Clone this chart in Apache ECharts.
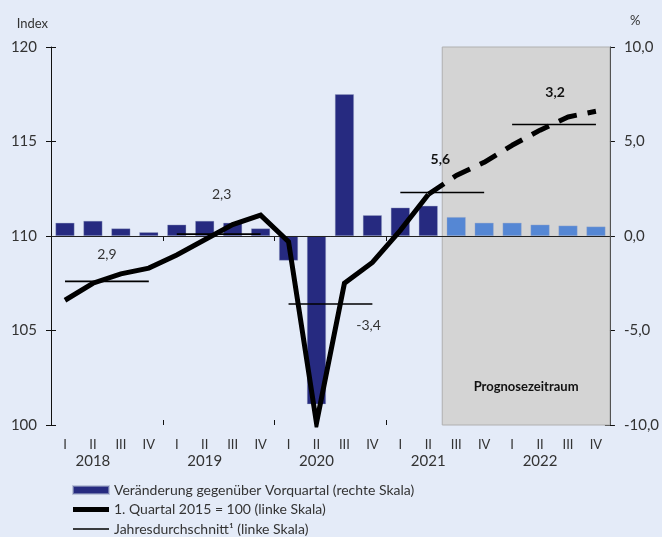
<!DOCTYPE html>
<html>
<head>
<meta charset="utf-8">
<script src="https://cdn.jsdelivr.net/npm/echarts@6/dist/echarts.min.js"></script>
<style>
  html, body { margin: 0; padding: 0; background: #e4ebf8; }
  #chart { width: 662px; height: 537px; }
</style>
</head>
<body>
<div id="chart"></div>
<script>
// Quartale 2018 I bis 2022 IV
const quarters = [
  '2018 I', '2018 II', '2018 III', '2018 IV',
  '2019 I', '2019 II', '2019 III', '2019 IV',
  '2020 I', '2020 II', '2020 III', '2020 IV',
  '2021 I', '2021 II', '2021 III', '2021 IV',
  '2022 I', '2022 II', '2022 III', '2022 IV'
];
const years = ['2018', '2019', '2020', '2021', '2022'];
const forecastFrom = '2021 III';

// Veränderung gegenüber Vorquartal in % (rechte Skala)
const changeQoQ = [0.7, 0.8, 0.4, 0.2, 0.6, 0.8, 0.7, 0.4, -1.3, -8.9, 7.5, 1.1,
                   1.5, 1.6, 1.0, 0.7, 0.7, 0.6, 0.55, 0.5];
// 1. Quartal 2015 = 100 (linke Skala)
const indexActual = [106.6, 107.5, 108.0, 108.3, 109.0, 109.8, 110.6, 111.1, 109.7, 100.1,
                     107.5, 108.6, 110.3, 112.2, null, null, null, null, null, null];
const indexForecast = [null, null, null, null, null, null, null, null, null, null,
                       null, null, null, 112.2, 113.2, 113.9, 114.8, 115.6, 116.3, 116.6];
// Jahresdurchschnitt (linke Skala) und Jahresveränderung
const yearAvg = [107.6, 110.1, 106.4, 112.3, 115.9];
const yearGrowth = ['2,9', '2,3', '-3,4', '5,6', '3,2'];

const leftTicks = { min: 100, max: 120, interval: 5 };
const rightTicks = { min: -10, max: 10, interval: 5 };

const fontFamily = 'Lato, "Noto Sans", sans-serif';
const txt = '#333';
const forecastIdx = quarters.indexOf(forecastFrom);

const barName = 'Veränderung gegenüber Vorquartal (rechte Skala)';
const lineName = '1. Quartal 2015 = 100 (linke Skala)';
const avgName = 'Jahresdurchschnitt¹ (linke Skala)';

// Beschriftungen der Jahresdurchschnitte (Versatz in px)
const growthOffsets = [[14, -27], [17, -40], [52, 21], [12, -33], [15, -32]];

const avgSeries = years.map((y, i) => {
  const data = quarters.map((q, k) => (Math.floor(k / 4) === i ? yearAvg[i] : null));
  return {
    name: avgName,
    type: 'line',
    yAxisIndex: 0,
    data: data,
    symbol: 'none',
    z: 4,
    lineStyle: { color: '#000', width: 1.6 },
    itemStyle: { color: '#000' },
    markPoint: {
      silent: true,
      symbol: 'circle',
      symbolSize: 0,
      label: {
        show: true,
        position: 'inside',
        offset: growthOffsets[i],
        formatter: yearGrowth[i],
        color: i >= 3 ? '#111' : txt,
        fontSize: 14,
        fontWeight: i >= 3 ? 'bold' : 'normal',
        fontFamily: fontFamily
      },
      data: [{ coord: [quarters[i * 4 + 1], yearAvg[i]] }]
    }
  };
});

// Legendensymbole: Balken, dicke Linie, dünne Linie (Box 36 x 8)
const iconBar = 'path://M0,0 L36,0 L36,8 L0,8 Z';
const iconThick = 'path://M0,0 M0,8 M0,1.5 L36,1.5 L36,6.5 L0,6.5 Z';
const iconThin = 'path://M0,0 M0,8 M0,3.2 L36,3.2 L36,4.8 L0,4.8 Z';

const chart = echarts.init(document.getElementById('chart'));
chart.setOption({
  backgroundColor: '#e4ebf8',
  animation: false,
  textStyle: { fontFamily: fontFamily },
  grid: { left: 51, right: 49, top: 47, bottom: 112 },
  legend: {
    orient: 'vertical',
    left: 72,
    top: 483,
    padding: 0,
    itemWidth: 36,
    itemHeight: 8,
    itemGap: 5.5,
    textStyle: { color: txt, fontSize: 14, fontFamily: fontFamily, lineHeight: 14 },
    data: [
      { name: barName, icon: iconBar, itemStyle: { color: '#262a80' } },
      { name: lineName, icon: iconThick, itemStyle: { color: '#000' } },
      { name: avgName, icon: iconThin, itemStyle: { color: '#000' } }
    ]
  },
  xAxis: [
    {
      type: 'category',
      data: quarters,
      position: 'bottom',
      axisLine: { lineStyle: { color: '#111', width: 1 } },
      axisTick: { show: false },
      axisLabel: {
        color: txt, fontSize: 13, margin: 13, interval: 0,
        formatter: v => v.split(' ')[1]
      }
    },
    {
      type: 'category',
      data: years,
      position: 'bottom',
      axisLine: { show: false },
      axisTick: { show: true, length: 5, lineStyle: { color: '#111' } },
      axisLabel: { color: txt, fontSize: 15, margin: 29, padding: [0, 28, 0, 0] }
    },
    {
      type: 'category',
      data: years,
      position: 'bottom',
      axisLine: { show: false },
      axisTick: { show: true, inside: true, length: 5, lineStyle: { color: '#111' } },
      axisLabel: { show: false }
    },
    { type: 'value', min: 0, max: quarters.length, show: false }
  ],
  yAxis: [
    {
      type: 'value',
      position: 'left',
      min: leftTicks.min, max: leftTicks.max, interval: leftTicks.interval,
      name: 'Index',
      nameLocation: 'end',
      nameGap: 17,
      nameTextStyle: { color: txt, fontSize: 13, align: 'right', padding: [0, 3, 0, 0] },
      axisLine: { show: true, lineStyle: { color: '#111' } },
      axisTick: { show: true, length: 5, lineStyle: { color: '#111' } },
      axisLabel: { color: txt, fontSize: 15, margin: 14 },
      splitLine: { show: false }
    },
    {
      type: 'value',
      position: 'right',
      min: rightTicks.min, max: rightTicks.max, interval: rightTicks.interval,
      name: '%',
      nameLocation: 'end',
      nameGap: 20,
      nameTextStyle: { color: txt, fontSize: 13, align: 'left', padding: [0, 0, 0, 20] },
      axisLine: { show: true, lineStyle: { color: '#111' } },
      axisTick: { show: true, length: 5, lineStyle: { color: '#111' } },
      axisLabel: {
        color: txt, fontSize: 15, margin: 14,
        formatter: v => v.toFixed(1).replace('.', ',')
      },
      splitLine: { show: false }
    },
    {
      type: 'value', position: 'left',
      min: leftTicks.min, max: leftTicks.max, interval: leftTicks.interval,
      axisLine: { show: false },
      axisTick: { show: true, inside: true, length: 5, lineStyle: { color: '#111' } },
      axisLabel: { show: false }, splitLine: { show: false }
    },
    {
      type: 'value', position: 'right',
      min: rightTicks.min, max: rightTicks.max, interval: rightTicks.interval,
      axisLine: { show: false },
      axisTick: { show: true, inside: true, length: 5, lineStyle: { color: '#111' } },
      axisLabel: { show: false }, splitLine: { show: false }
    }
  ],
  series: [
    {
      // Prognosezeitraum
      name: 'Prognose',
      type: 'line',
      xAxisIndex: 3,
      yAxisIndex: 0,
      data: [],
      z: 0,
      markArea: {
        silent: true,
        itemStyle: { color: '#d4d4d4', borderColor: '#b0b0b0', borderWidth: 1 },
        label: {
          show: true,
          position: 'insideBottom',
          distance: 32,
          color: '#111',
          fontSize: 13,
          fontWeight: 'bold',
          fontFamily: fontFamily
        },
        data: [[{ name: 'Prognosezeitraum', xAxis: forecastIdx }, { xAxis: quarters.length }]]
      }
    },
    {
      name: barName,
      type: 'bar',
      xAxisIndex: 0,
      yAxisIndex: 1,
      barWidth: 19,
      z: 2,
      data: changeQoQ.map((v, i) => ({
        value: v,
        itemStyle: { color: i >= forecastIdx ? '#5587d4' : '#262a80' }
      })),
      itemStyle: { color: '#262a80', borderColor: 'rgba(160,170,200,0.6)', borderWidth: 0.6 },
      markLine: {
        silent: true,
        symbol: 'none',
        label: { show: false },
        lineStyle: { color: '#222', width: 1, type: 'solid' },
        data: [{ yAxis: 0 }]
      }
    },
    ...avgSeries,
    {
      name: lineName,
      type: 'line',
      yAxisIndex: 0,
      data: indexActual,
      symbol: 'none',
      z: 5,
      lineStyle: { color: '#000', width: 5, join: 'miter', cap: 'butt' },
      itemStyle: { color: '#000' }
    },
    {
      name: 'Prognose Index',
      type: 'line',
      yAxisIndex: 0,
      data: indexForecast,
      symbol: 'none',
      z: 5,
      lineStyle: { color: '#000', width: 5, type: [19, 11], cap: 'butt' },
      itemStyle: { color: '#000' }
    }
  ]
});
</script>
</body>
</html>
